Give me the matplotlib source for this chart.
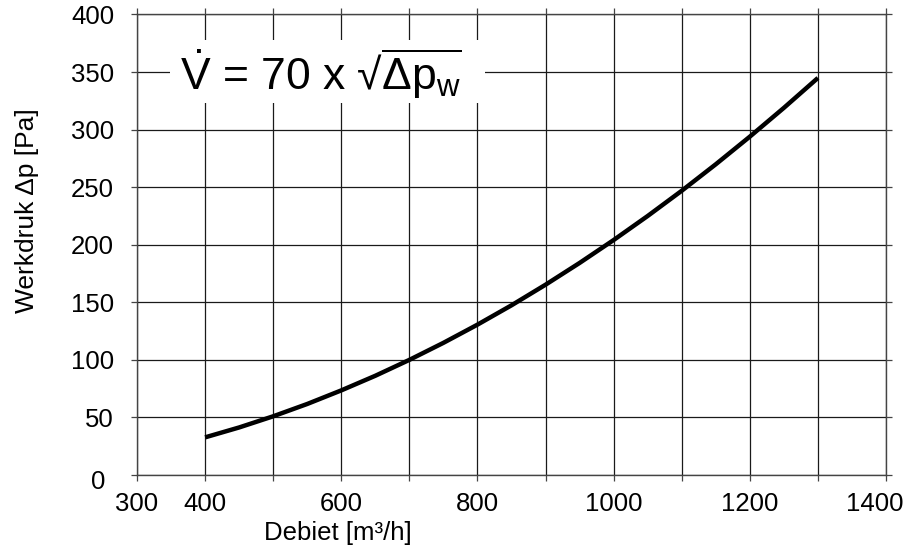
import matplotlib
matplotlib.use("Agg")
import matplotlib.pyplot as plt
from matplotlib.patches import Rectangle
from matplotlib.transforms import ScaledTranslation

plt.rcParams['font.family'] = ['Liberation Sans', 'DejaVu Sans']
plt.rcParams['mathtext.fontset'] = 'custom'
plt.rcParams['mathtext.rm'] = 'Liberation Sans'
plt.rcParams['mathtext.it'] = 'Liberation Sans:italic'
plt.rcParams['mathtext.bf'] = 'Liberation Sans:bold'

# Data
flow = [400, 450, 500, 550, 600, 650, 700, 750, 800, 850, 900, 950,
        1000, 1050, 1100, 1150, 1200, 1250, 1300]
pressure = [32.7, 41.3, 51.0, 61.7, 73.5, 86.2, 100.0, 114.8, 130.6, 147.4,
            165.3, 184.2, 204.1, 225.0, 246.9, 269.9, 293.9, 318.9, 344.9]
x_ticks = [300, 400, 600, 800, 1000, 1200, 1400]
x_grid = [300, 400, 500, 600, 700, 800, 900, 1000, 1100, 1200, 1300, 1400]
y_ticks = [0, 50, 100, 150, 200, 250, 300, 350, 400]
x_label = "Debiet [m³/h]"
y_label = "Werkdruk Δp [Pa]"
formula = r'$\mathrm{\dot{V}}$ = 70 x √$\overline{\mathrm{\Delta p_w}}$'

fig = plt.figure(figsize=(9.21, 5.49), dpi=100)
ax = fig.add_axes([0.1488, 0.1348, 0.8132, 0.8388])

ax.set_xlim(300, 1400)
ax.set_ylim(0, 400)
ax.set_xticks(x_grid)
ax.set_xticklabels([str(v) if v in x_ticks else "" for v in x_grid])
ax.set_yticks(y_ticks)
ax.set_yticklabels([str(v) for v in y_ticks])

ax.grid(True, color='#1a1a1a', linewidth=0.9)
ax.set_axisbelow(True)
for s in ax.spines.values():
    s.set_color('#444444')
    s.set_linewidth(1.0)

ax.tick_params(axis='both', which='both', direction='out', length=4.5,
               width=0.9, color='#444444', labelsize=18.5,
               top=True, right=True, labeltop=False, labelright=False)
ax.tick_params(axis='y', pad=12)
ax.tick_params(axis='x', pad=8)

# shift the "0" label left/down and the "1400" label left as in reference
lbl0 = ax.get_yticklabels()[0]
lbl0.set_transform(lbl0.get_transform() + ScaledTranslation(-9/100, -5/100, fig.dpi_scale_trans))
lbl_last = ax.get_xticklabels()[-1]
lbl_last.set_transform(lbl_last.get_transform() + ScaledTranslation(-11/100, 0, fig.dpi_scale_trans))

ax.plot(flow, pressure, color='black', linewidth=3.2, solid_capstyle='butt', zorder=3)

ax.set_xlabel(x_label, fontsize=18.5)
ax.xaxis.set_label_coords(0.268, -0.126)
ax.xaxis.label.set_va('center')
ax.set_ylabel(y_label, fontsize=19)
ax.yaxis.set_label_coords(-0.147, 0.574)
ax.yaxis.label.set_va('center')

ax.add_patch(Rectangle((0.044, 0.808), 0.4206, 0.137, transform=ax.transAxes,
                       facecolor='white', edgecolor='none', zorder=2))
ax.text(0.0574, 0.836, formula, transform=ax.transAxes, fontsize=32,
        ha='left', va='baseline', zorder=4)

fig.savefig('out.png', dpi=100)
